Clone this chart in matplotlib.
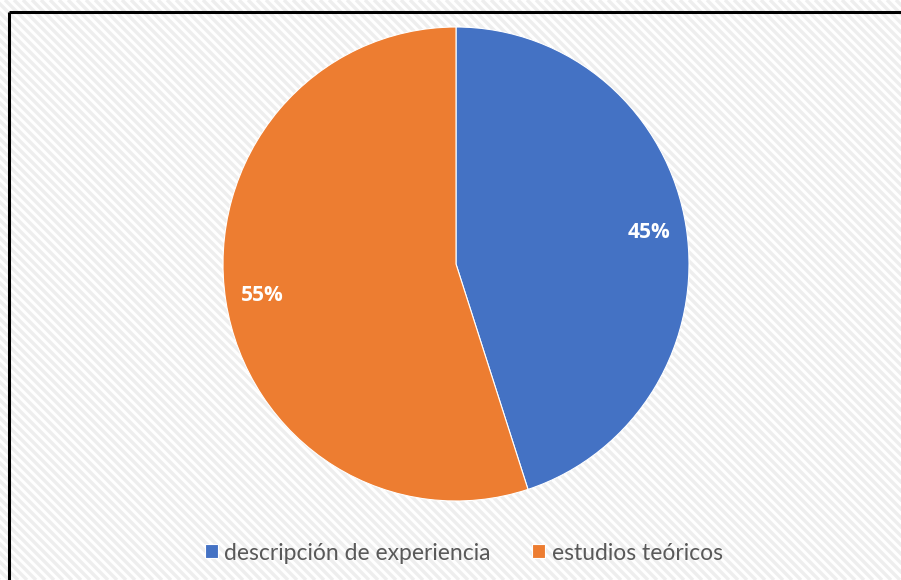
import matplotlib.pyplot as plt
from matplotlib.collections import LineCollection
from matplotlib.patches import Rectangle

# Pie data
categorias = ['descripción de experiencia', 'estudios teóricos']
porcentajes = [45, 55]
colores = ['#4472C4', '#ED7D31']

plt.rcParams['font.family'] = ['Lato', 'DejaVu Sans']

W, H = 901, 580
fig = plt.figure(figsize=(W / 100, H / 100), dpi=100)
fig.patch.set_facecolor('white')

# Background: light diagonal stripes inside the chart frame
bg = fig.add_axes([0, 0, 1, 1])
bg.set_xlim(0, W)
bg.set_ylim(H, 0)
bg.axis('off')
marco = Rectangle((9, 12), W, H, transform=bg.transData, facecolor='none', edgecolor='none')
bg.add_patch(marco)
segs = [[(c, 0), (c + H, H)] for c in range(-H, W + 10, 9)]
rayas = LineCollection(segs, colors='#eeeeee', linewidths=2.4)
rayas.set_clip_path(marco)
bg.add_collection(rayas)
bg.plot([9, W], [12, 12], color='black', lw=2.2, solid_capstyle='butt')
bg.plot([9, 9], [12, H], color='black', lw=2.2, solid_capstyle='butt')
# white band behind the legend
bg.add_patch(Rectangle((165, 533), 580, 60, facecolor='white', edgecolor='none'))

# Pie
cx, cy, rx, ry = 456, 264, 233, 237
ax = fig.add_axes([(cx - rx) / W, (H - cy - ry) / H, 2 * rx / W, 2 * ry / H])
wedges, textos, autotextos = ax.pie(
    porcentajes, colors=colores, startangle=90, counterclock=False,
    autopct='%1.0f%%', pctdistance=0.84,
    wedgeprops=dict(edgecolor='white', linewidth=0.8),
    textprops=dict(color='white', fontsize=15, fontweight='bold',
                   family=['Open Sans', 'DejaVu Sans']))
ax.set_aspect('auto')
ax.set_xlim(-1, 1)
ax.set_ylim(-1, 1)

# Legend along the bottom
leg = fig.legend(wedges, categorias, loc='center left',
                 bbox_to_anchor=(205 / W, 1 - 553 / H), ncol=2,
                 frameon=False, fontsize=16.5, handlelength=0.55, handleheight=0.55,
                 handletextpad=0.3, columnspacing=1.8, borderpad=0,
                 borderaxespad=0)
for t in leg.get_texts():
    t.set_color('#595959')

fig.savefig('out.png', dpi=100)
